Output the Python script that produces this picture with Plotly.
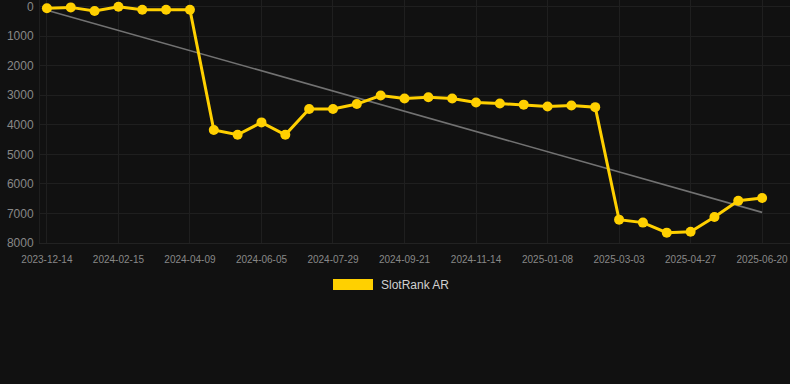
import numpy as np
import plotly.graph_objects as go

dates = ["2023-12-14", "2024-01-04", "2024-01-25", "2024-02-15", "2024-03-04", "2024-03-22",
         "2024-04-09", "2024-04-28", "2024-05-17", "2024-06-05", "2024-06-23", "2024-07-11",
         "2024-07-29", "2024-08-16", "2024-09-03", "2024-09-21", "2024-10-09", "2024-10-27",
         "2024-11-14", "2024-12-02", "2024-12-20", "2025-01-08", "2025-01-26", "2025-02-13",
         "2025-03-03", "2025-03-21", "2025-04-08", "2025-04-27", "2025-05-15", "2025-06-02",
         "2025-06-20"]
rank = [60, 30, 150, 10, 110, 110, 110,
        4180, 4340, 3920, 4340, 3470, 3470, 3300, 3010,
        3110, 3070, 3110, 3250, 3280, 3320, 3385, 3350, 3405,
        7210, 7310, 7650, 7620, 7120, 6570, 6480]
tick_labels = dates[::3]
y_ticks = [0, 1000, 2000, 3000, 4000, 5000, 6000, 7000, 8000]
series_name = "SlotRank AR"

idx = np.arange(len(rank))
slope, intercept = np.polyfit(idx, rank, 1)
trend = slope * idx + intercept

YELLOW = "#FFD000"
fig = go.Figure()
fig.add_trace(go.Scatter(x=dates, y=trend, mode="lines",
                         line=dict(color="#727272", width=1.6),
                         showlegend=False, hoverinfo="skip"))
fig.add_trace(go.Scatter(x=dates, y=rank, mode="lines+markers", name=series_name,
                         line=dict(color=YELLOW, width=3),
                         marker=dict(color=YELLOW, size=10),
                         showlegend=False, cliponaxis=False))

# legend drawn as layout items
W, H = 790, 384
L, R, T, B = 40, 0, 0, 141
pw, ph = W - L - R, H - T - B
def px_x(p): return (p - L) / pw
def px_y(p): return (H - B - p) / ph

fig.add_shape(type="rect", xref="paper", yref="paper",
              x0=px_x(333), x1=px_x(373), y0=px_y(290), y1=px_y(279),
              fillcolor=YELLOW, line=dict(width=0))
fig.add_annotation(xref="paper", yref="paper", x=px_x(379), y=px_y(285),
                   text=series_name, showarrow=False, xanchor="left", yanchor="middle",
                   font=dict(size=12, color="#d0d0d0", family="Arial, Liberation Sans"))

fig.update_layout(
    width=W, height=H,
    margin=dict(l=L, r=R, t=T, b=B),
    paper_bgcolor="#111111", plot_bgcolor="#111111",
    font=dict(family="Arial, Liberation Sans", color="#888888"),
    showlegend=False,
)
fig.update_xaxes(type="category", tickvals=tick_labels, ticktext=tick_labels,
                 range=[-0.29, 31.17], showgrid=True, gridcolor="#1f1f1f", gridwidth=1,
                 zeroline=False, showline=True, linecolor="#222222",
                 ticks="", tickfont=dict(size=10, color="#888888"),
                 ticklabelstandoff=7, ticklabeloverflow="allow")
fig.update_yaxes(autorange=False, range=[8000, -220], tickvals=y_ticks,
                 ticktext=[str(v) for v in y_ticks], showgrid=True, gridcolor="#1f1f1f",
                 zeroline=False, showline=True, linecolor="#1f1f1f",
                 ticks="", tickfont=dict(size=12, color="#888888"),
                 ticklabelstandoff=3, ticklabeloverflow="allow")

fig.write_html("out.html", config={"displayModeBar": False},
               post_script="document.body.style.margin='0';document.body.style.background='#111111';")
